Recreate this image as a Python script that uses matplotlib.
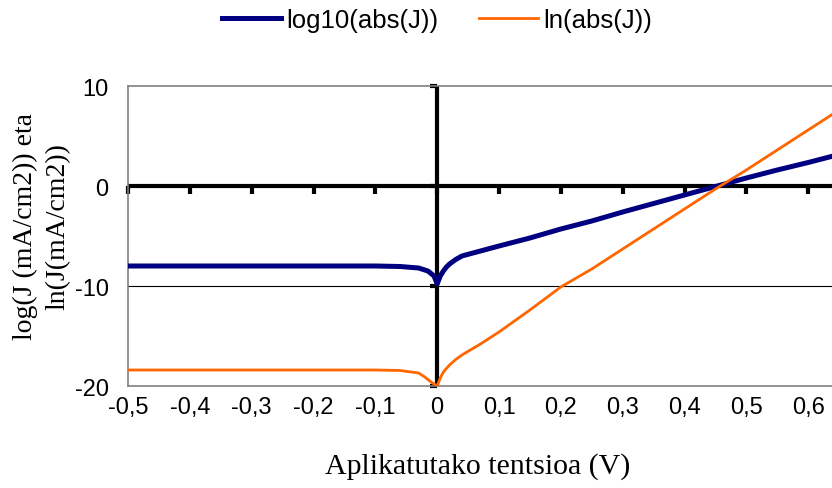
import numpy as np
import matplotlib.pyplot as plt

# applied voltage (V) and the two current-density curves
v_log = [-0.5, -0.4, -0.3, -0.2, -0.1, -0.06, -0.03, -0.015, -0.005, 0.0,
         0.005, 0.01, 0.015, 0.02, 0.03, 0.04, 0.07, 0.1, 0.15, 0.2, 0.25,
         0.3, 0.35, 0.4, 0.45, 0.5, 0.55, 0.6, 0.65]
log10_j = [-8.0, -8.0, -8.0, -8.0, -8.0, -8.05, -8.2, -8.5, -9.0, -9.8,
           -9.0, -8.5, -8.1, -7.8, -7.35, -7.0, -6.5, -6.0, -5.2, -4.3, -3.5,
           -2.6, -1.75, -0.9, -0.05, 0.8, 1.6, 2.35, 3.15]

v_ln = [-0.5, -0.4, -0.3, -0.2, -0.1, -0.06, -0.03, -0.02, -0.01, 0.0,
        0.005, 0.01, 0.02, 0.03, 0.04, 0.07, 0.1, 0.15, 0.2, 0.25, 0.3, 0.35,
        0.4, 0.45, 0.5, 0.55, 0.6, 0.65]
ln_j = [-18.4, -18.4, -18.4, -18.4, -18.4, -18.45, -18.7, -19.1, -19.6, -20.0,
        -19.2, -18.6, -17.9, -17.35, -16.9, -15.8, -14.6, -12.4, -10.1, -8.3,
        -6.3, -4.3, -2.3, -0.3, 1.6, 3.6, 5.6, 7.6]

xticks = [-0.5, -0.4, -0.3, -0.2, -0.1, 0.0, 0.1, 0.2, 0.3, 0.4, 0.5, 0.6]
xticklabels = ['-0,5', '-0,4', '-0,3', '-0,2', '-0,1', '0',
               '0,1', '0,2', '0,3', '0,4', '0,5', '0,6']
yticks = [10, 0, -10, -20]
yticklabels = ['10', '0', '-10', '-20']

plt.rcParams['font.family'] = ['Liberation Sans', 'DejaVu Sans']

fig = plt.figure(figsize=(8.32, 4.89), dpi=100)
ax = fig.add_axes([128 / 832, 102 / 489, 742 / 832, 300 / 489])
ax.set_xlim(-0.5, 0.7)
ax.set_ylim(-20, 10)

for s in ax.spines.values():
    s.set_color('#808080')
    s.set_linewidth(1.2)

ax.set_xticks(xticks)
ax.set_xticklabels(xticklabels, fontsize=17)
ax.set_yticks(yticks)
ax.set_yticklabels(yticklabels, fontsize=17)
ax.tick_params(axis='x', length=0, pad=7)
ax.tick_params(axis='y', length=0, pad=14)

# gridline and the crossing axes through the origin
ax.axhline(-10, color='black', lw=0.8, zorder=1)
ax.axhline(0, color='black', lw=3, zorder=2)
ax.axvline(0, color='black', lw=3, zorder=2)
ax.plot(xticks, np.zeros(len(xticks)), ls='', marker=3, ms=6, mew=3,
        color='black', zorder=2, clip_on=False)
ax.plot(np.zeros(len(yticks)), yticks, ls='', marker=0, ms=5, mew=3,
        color='black', zorder=2, clip_on=False)

ax.plot(v_log, log10_j, color='#000080', lw=3.6, label='log10(abs(J))',
        zorder=3, solid_joinstyle='round')
ax.plot(v_ln, ln_j, color='#FF6600', lw=2.0, label='ln(abs(J))', zorder=4)

fig.legend(loc='center', bbox_to_anchor=(437 / 832, 1 - 21 / 489), ncol=2,
           frameon=False, fontsize=18.5, handlelength=2.3, handletextpad=0.2,
           columnspacing=1.6)

fig.text(478 / 832, 1 - 467 / 489, 'Aplikatutako tentsioa (V)',
         family='Liberation Serif', fontsize=21.5, ha='center', va='center')
fig.text(42 / 832, 1 - 227 / 489, 'log(J (mA/cm2)) eta\nln(J(mA/cm2))',
         family='Liberation Serif', fontsize=20, rotation=90, ha='center',
         va='center', multialignment='center', linespacing=1.4)

fig.savefig('out.png', dpi=100)
